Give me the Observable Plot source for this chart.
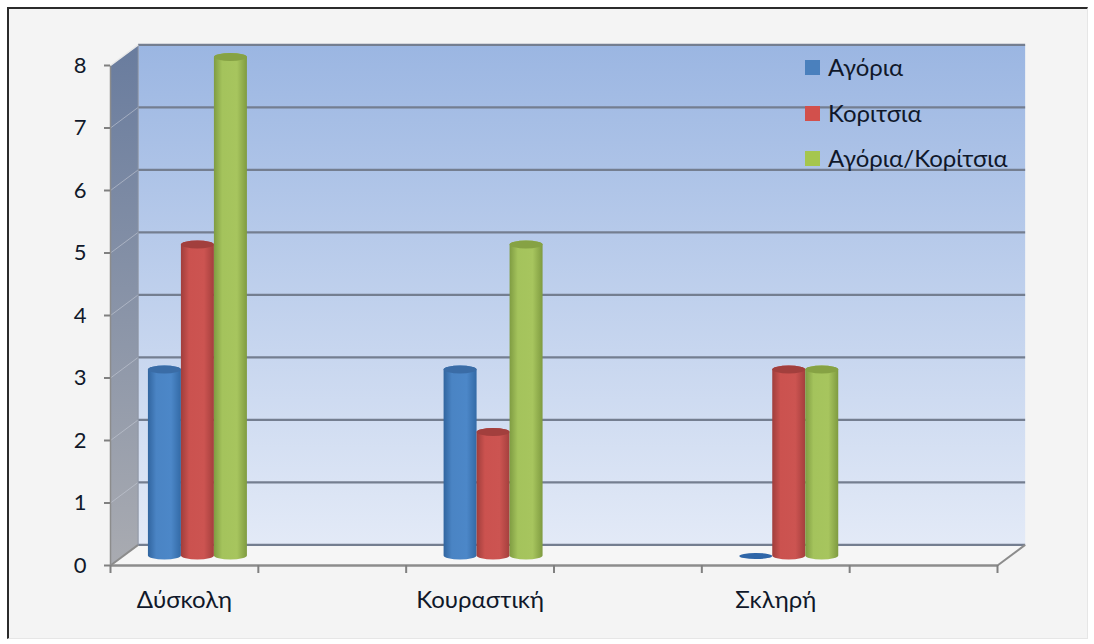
<!DOCTYPE html>
<html><head><meta charset="utf-8">
<script src="https://cdn.jsdelivr.net/npm/d3@7"></script>
<script src="https://cdn.jsdelivr.net/npm/@observablehq/plot@0.6"></script>
<style>
html,body{margin:0;padding:0;background:#fff;width:1094px;height:644px;overflow:hidden}
#frame{position:absolute;left:7px;top:7px;width:1081px;height:632px;background:#f4f4f4;border-top:2px solid #2b2b2b;border-left:2px solid #2b2b2b;box-sizing:border-box;border-right:1px solid #e6e6e6;border-bottom:1px solid #e6e6e6}
#chart{position:absolute;left:0;top:0}
#legend{position:absolute;left:805px;top:50px;font:24px Lato,"Open Sans",sans-serif;color:#10182a}
#legend div{height:45.5px;display:flex;align-items:flex-start;line-height:34px}
#legend i{display:inline-block;width:15px;height:15px;margin:10px 8px 0 0}
</style></head><body>
<div id="frame"></div><div id="chart"></div><div id="legend"></div>
<script>
const categories = ["Δύσκολη", "Κουραστική", "Σκληρή"];
const seriesNames = ["Αγόρια", "Κοριτσια", "Αγόρια/Κορίτσια"];
const boys = [3, 3, 0];
const girls = [5, 2, 3];
const boysGirls = [8, 5, 3];
const yTicks = [0, 1, 2, 3, 4, 5, 6, 7, 8];
const xTicks = [0, 1, 2, 3, 4, 5, 6];
const swatches = ["#4a80bd", "#d2504c", "#a5c64e"];

const font = 'Lato, "Open Sans", sans-serif';
const depthX = 0.187, depthY = 0.33, barW = 0.2232;
const slot = c => 2 * c + 0.5;
const rows = [boys, girls, boysGirls].flatMap((vals, s) =>
  vals.map((v, c) => ({v, s, x1: slot(c) + (s - 1.5) * barW, x2: slot(c) + (s - 0.5) * barW})));
const bars = rows.filter(d => d.v > 0);
const zeros = rows.filter(d => d.v === 0);

const stops = (id, dir, list) => `<linearGradient id="${id}" x1="0" y1="0" x2="${dir ? 1 : 0}" y2="${dir ? 0 : 1}">` +
  list.map(([o, c]) => `<stop offset="${o}" stop-color="${c}"/>`).join("") + "</linearGradient>";
const defs = () => {
  const g = document.createElementNS("http://www.w3.org/2000/svg", "defs");
  g.innerHTML =
    stops("wall", 0, [[0, "#9bb6e2"], [1, "#e3eaf7"]]) +
    stops("side", 0, [[0, "#697c9e"], [1, "#a9abb1"]]) +
    stops("g0", 1, [[0, "#31659f"], [.25, "#4a84c4"], [.7, "#4c87c8"], [1, "#336aa6"]]) +
    stops("g1", 1, [[0, "#a03e3c"], [.25, "#cb524f"], [.7, "#cc5451"], [1, "#a43f3d"]]) +
    stops("g2", 1, [[0, "#7f9c42"], [.25, "#a4c35c"], [.7, "#a7c55e"], [1, "#7f9b40"]]);
  return g;
};
const fills = ["url(#g0)", "url(#g1)", "url(#g2)"];
const caps = ["#3a6ca6", "#a23f3d", "#86a244"];

const wallPts = [[depthX, depthY], [depthX + 6, depthY], [depthX + 6, 8 + depthY], [depthX, 8 + depthY]];
const sidePts = [[0, 0], [depthX, depthY], [depthX, 8 + depthY], [0, 8]];
const floorPts = [[0, 0], [depthX, depthY], [6 + depthX, depthY], [6, 0]];
const poly = (pts, fill) => Plot.line(pts, {x: d => d[0], y: d => d[1], fill, stroke: "none"});
const barMark = (s) => Plot.rect(bars.filter(d => d.s === s), {
  x1: "x1", x2: "x2", y1: () => 0, y2: "v", dx: 13.5, dy: -8,
  insetTop: -4, insetBottom: -2.5, rx: 16.5, ry: 4, fill: fills[s]
});
const capMark = (s) => Plot.rect(bars.filter(d => d.s === s), {
  x1: "x1", x2: "x2", y1: "v", y2: "v", dx: 13.5, dy: -8,
  insetTop: -4, insetBottom: -4, rx: 16.5, ry: 4, fill: caps[s]
});

const plot = Plot.plot({
  width: 1094, height: 644,
  marginLeft: 110, marginRight: 97, marginTop: 65, marginBottom: 79,
  style: {background: "transparent", fontFamily: font},
  x: {domain: [0, 6]}, y: {domain: [0, 8]},
  marks: [
    defs,
    poly(wallPts, "url(#wall)"),
    poly(sidePts, "url(#side)"),
    poly(floorPts, "#f6f6f6"),
    Plot.link(yTicks.slice(1, -1), {x1: () => 0, y1: d => d, x2: () => depthX, y2: d => d + depthY, stroke: "#c4cad6", strokeWidth: 1, strokeOpacity: .6}),
    Plot.link(yTicks, {x1: () => depthX, y1: d => d + depthY, x2: () => 6 + depthX, y2: d => d + depthY, stroke: "#747e90", strokeWidth: 2.2}),
    Plot.link([0, 6], {x1: d => d, y1: () => 0, x2: d => d + depthX, y2: () => depthY, stroke: "#8c8c8c", strokeWidth: 2}),
    Plot.link([depthX], {x1: d => d, y1: () => depthY, x2: d => d, y2: () => 8 + depthY, stroke: "#8c94a4", strokeWidth: 1}),
    Plot.link([0], {x1: d => d, y1: () => 0, x2: () => 6, y2: () => 0, stroke: "#8c8c8c", strokeWidth: 2.4}),
    Plot.link([0], {x1: d => d, y1: () => 0, x2: d => d, y2: () => 8, stroke: "#8c8c8c", strokeWidth: 1.5}),
    Plot.link([0], {x1: d => d, y1: () => 8, x2: () => depthX, y2: () => 8 + depthY, stroke: "#e8e8e8", strokeWidth: 1.5}),
    ...[0, 1, 2].flatMap(s => [barMark(s), capMark(s)]),
    Plot.rect(zeros, {x1: "x1", x2: "x2", y1: "v", y2: "v", dx: 13.5, dy: -9, insetTop: -3, insetBottom: -3, rx: 16, ry: 3, fill: "#2f66a8"}),
    Plot.axisY({ticks: yTicks, tickSize: 6, tickPadding: 18, fontSize: 22, fill: "#10182a", stroke: "#808080", strokeWidth: 2, label: null}),
    Plot.axisX({ticks: xTicks, tickSize: 8, tickFormat: () => "", stroke: "#808080", strokeWidth: 2, label: null}),
    Plot.text(categories, {x: (d, i) => slot(i), y: () => 0, dy: 35, text: d => d, fontSize: 24, fill: "#10182a"})
  ]
});
document.getElementById("chart").appendChild(plot);

const legend = document.getElementById("legend");
seriesNames.forEach((name, i) => {
  const row = document.createElement("div");
  const sw = document.createElement("i");
  sw.style.background = swatches[i];
  row.appendChild(sw);
  row.appendChild(document.createTextNode(name));
  legend.appendChild(row);
});
</script></body></html>
